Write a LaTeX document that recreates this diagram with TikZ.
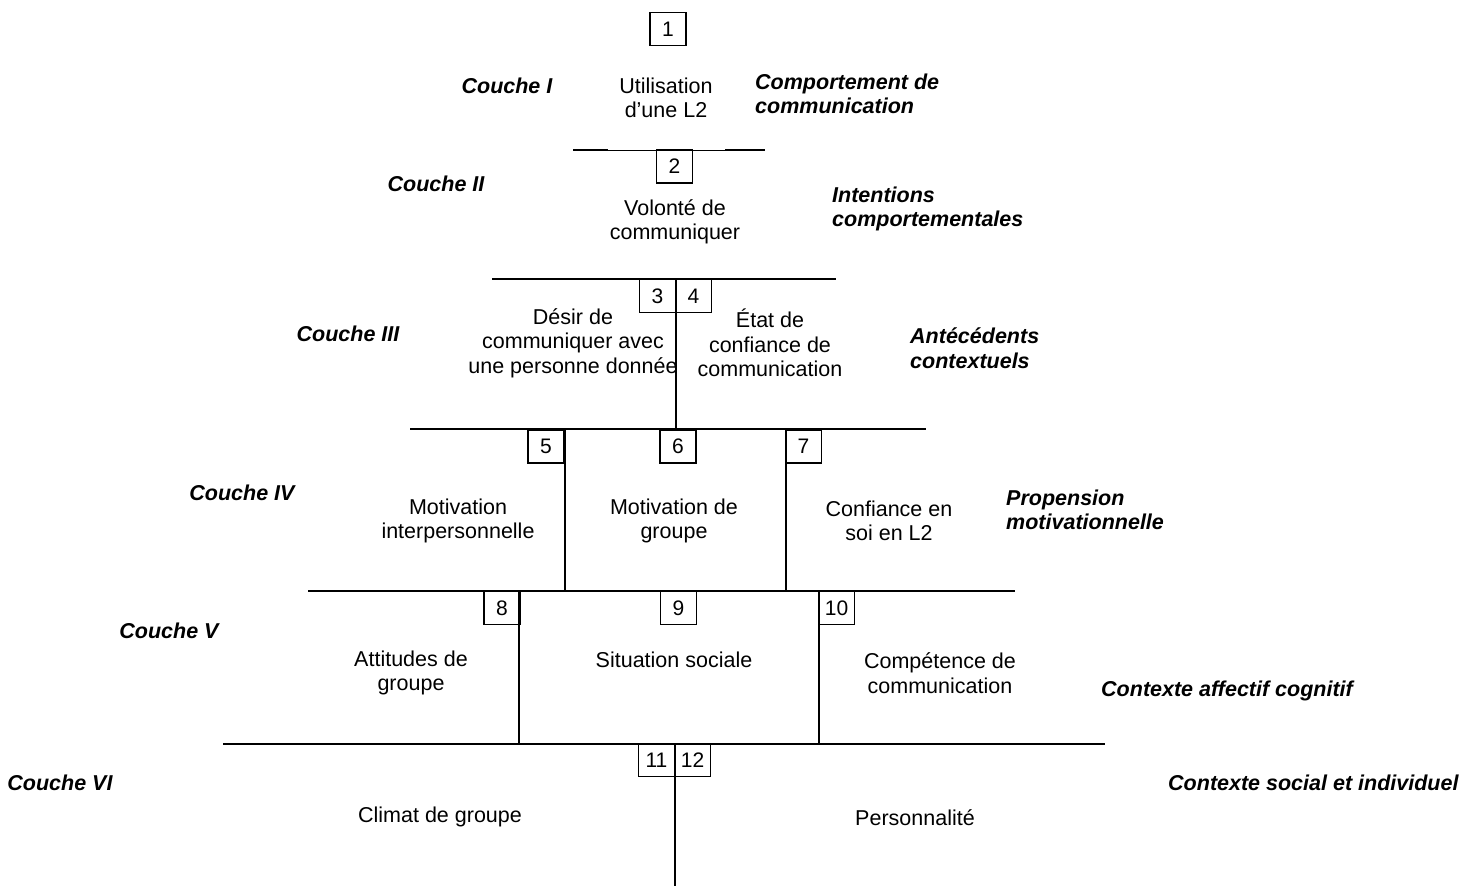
\documentclass[tikz,border=0pt]{standalone}
\usepackage{fontspec}
\setmainfont{Liberation Sans}
\begin{document}
\begin{tikzpicture}[x=1pt,y=-1pt,
  num/.style={draw,line width=1.6pt,minimum width=36pt,minimum height=33pt,inner sep=0pt,font=\fontsize{21}{24}\selectfont},
  txt/.style={align=center,inner sep=0pt,font=\fontsize{21.5}{24.5}\selectfont},
  layer/.style={inner sep=0pt,font=\fontsize{21.5}{24.5}\selectfont\bfseries\itshape},
  lab/.style={align=left,anchor=west,inner sep=0pt,font=\fontsize{21.5}{24.5}\selectfont\bfseries\itshape},
  hl/.style={line width=2pt},
  vl/.style={line width=2pt}]
\useasboundingbox (0,0) rectangle (1476,886);
% layer I
\node[num] (b1) at (668,29) {1};
\node[txt] (t1) at (666,98) {Utilisation\\d’une L2};
\node[layer] (c1) at (507,86) {Couche I};
\node[lab] (l1) at (755,94) {Comportement de\\communication};
% line 2
\coordinate (h2a) at (573,150); \coordinate (h2b) at (608,150);
\coordinate (h2c) at (725,150); \coordinate (h2d) at (765,150);
\draw[hl] (h2a) -- (h2b);
\draw[line width=0.8pt] (h2b) -- (h2c);
\draw[hl] (h2c) -- (h2d);
\node[num] (b2) at (674.5,166.5) {2};
\node[txt] (t2) at (675,222) {Volonté de\\communiquer};
\node[layer] (c2) at (436,184) {Couche II};
\node[lab] (l2) at (832,209) {Intentions\\comportementales};
% line 3
\coordinate (h3a) at (492,279); \coordinate (h3b) at (836,279);
\draw[hl] (h3a) -- (h3b);
\node[num] (b3) at (657.5,296) {3};
\node[num] (b4) at (693.5,296) {4};
\coordinate (v3a) at (675.5,279); \coordinate (v3b) at (675.5,429);
\draw[vl] (v3a) -- (v3b);
\node[txt] (t3) at (573,343) {Désir de\\communiquer avec\\une personne donnée};
\node[txt] (t4) at (770,343) {État de\\confiance de\\communication};
\node[layer] (c3) at (348,334) {Couche III};
\node[lab] (l3) at (910,348) {Antécédents\\contextuels};
% line 4
\coordinate (h4a) at (410,429); \coordinate (h4b) at (926,429);
\draw[hl] (h4a) -- (h4b);
\node[num] (b5) at (546,446.5) {5};
\node[num] (b6) at (678,446.5) {6};
\node[num] (b7) at (803.5,446.5) {7};
\coordinate (v4a) at (565,429); \coordinate (v4b) at (565,591);
\coordinate (v4c) at (786,429); \coordinate (v4d) at (786,591);
\draw[vl] (v4a) -- (v4b);
\draw[vl] (v4c) -- (v4d);
\node[txt] (t5) at (458,521) {Motivation\\interpersonnelle};
\node[txt] (t6) at (674,521) {Motivation de\\groupe};
\node[txt] (t7) at (889,521) {Confiance en\\soi en L2};
\node[layer] (c4) at (242,493) {Couche IV};
\node[lab] (l4) at (1006,510) {Propension\\motivationnelle};
% line 5
\coordinate (h5a) at (308,591); \coordinate (h5b) at (1015,591);
\draw[hl] (h5a) -- (h5b);
\node[num] (b8) at (502,608) {8};
\node[num] (b9) at (678.5,608) {9};
\node[num] (b10) at (836.5,608) {10};
\coordinate (v5a) at (519,591); \coordinate (v5b) at (519,744);
\coordinate (v5c) at (819,591); \coordinate (v5d) at (819,744);
\draw[vl] (v5a) -- (v5b);
\draw[vl] (v5c) -- (v5d);
\node[txt] (t8) at (411,673) {Attitudes de\\groupe};
\node[txt] (t9) at (674,660) {Situation sociale};
\node[txt] (t10) at (940,673) {Compétence de\\communication};
\node[layer] (c5) at (169,631) {Couche V};
\node[lab] (l5) at (1101,691) {Contexte affectif cognitif};
% line 6
\coordinate (h6a) at (223,744); \coordinate (h6b) at (1105,744);
\draw[hl] (h6a) -- (h6b);
\node[num] (b11) at (656.5,760) {11};
\node[num] (b12) at (692.5,760) {12};
\coordinate (v6a) at (675,744); \coordinate (v6b) at (675,886);
\draw[vl] (v6a) -- (v6b);
\node[txt] (t11) at (440,817) {Climat de groupe};
\node[txt] (t12) at (915,818) {Personnalité};
\node[layer] (c6) at (60,783) {Couche VI};
\node[lab] (l6) at (1168,783) {Contexte social et individuel};
\end{tikzpicture}
\end{document}
